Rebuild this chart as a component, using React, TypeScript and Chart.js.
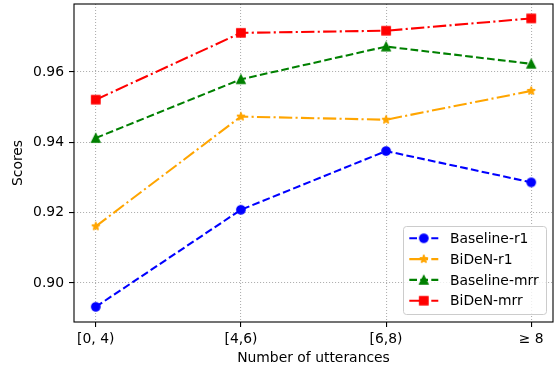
import React, { useEffect, useRef } from "react";
import { Chart, registerables } from "chart.js";
Chart.register(...registerables);

const categories = ["[0, 4)", "[4,6)", "[6,8)", "≥ 8"];
const seriesNames = ["Baseline-r1", "BiDeN-r1", "Baseline-mrr", "BiDeN-mrr"];
const baselineR1 = [0.8932, 0.9208, 0.9375, 0.9286];
const bidenR1 = [0.9161, 0.9473, 0.9464, 0.9546];
const baselineMrr = [0.9412, 0.9579, 0.9672, 0.9623];
const bidenMrr = [0.9521, 0.9711, 0.9717, 0.9752];
const yTicks = [0.9, 0.92, 0.94, 0.96];

const FONT = "DejaVu Sans";
const FS = 13.9;
const DASHED = [7.7, 3.3];
const DASHDOT = [13.3, 3.3, 2.1, 3.3];

function makeMarker(shape: string, color: string): HTMLCanvasElement {
  const c = document.createElement("canvas");
  c.width = 14;
  c.height = 14;
  const ctx = c.getContext("2d")!;
  ctx.fillStyle = color;
  ctx.strokeStyle = color;
  ctx.lineWidth = 1.39;
  ctx.lineJoin = "miter";
  const cx = 7, cy = 7, r = 4.17;
  ctx.beginPath();
  if (shape === "circle") {
    ctx.arc(cx, cy, r, 0, Math.PI * 2);
  } else if (shape === "square") {
    ctx.rect(cx - r, cy - r, 2 * r, 2 * r);
  } else if (shape === "triangle") {
    ctx.moveTo(cx, cy - r);
    ctx.lineTo(cx - r, cy + r);
    ctx.lineTo(cx + r, cy + r);
    ctx.closePath();
  } else if (shape === "star") {
    ctx.lineJoin = "bevel";
    const inner = r * 0.381966;
    for (let i = 0; i < 10; i++) {
      const rr = i % 2 === 0 ? r : inner;
      const a = -Math.PI / 2 + (i * Math.PI) / 5;
      const x = cx + rr * Math.cos(a);
      const y = cy + rr * Math.sin(a);
      if (i === 0) ctx.moveTo(x, y);
      else ctx.lineTo(x, y);
    }
    ctx.closePath();
  }
  ctx.fill();
  ctx.stroke();
  return c;
}

export default function App() {
  const ref = useRef<HTMLCanvasElement>(null);
  useEffect(() => {
    const colors = ["#0000ff", "#ffa500", "#008000", "#ff0000"];
    const shapes = ["circle", "star", "triangle", "square"];
    const dashes = [DASHED, DASHDOT, DASHED, DASHDOT];
    const values = [baselineR1, bidenR1, baselineMrr, bidenMrr];
    const markers = shapes.map((s, i) => makeMarker(s, colors[i]));

    const frameLegend = {
      id: "frameLegend",
      afterDraw(chart: any) {
        const { ctx, chartArea } = chart;
        ctx.save();
        ctx.strokeStyle = "#000";
        ctx.lineWidth = 1.1;
        ctx.setLineDash([]);
        ctx.strokeRect(chartArea.left, chartArea.top, chartArea.right - chartArea.left, chartArea.bottom - chartArea.top);
        // legend
        const bx = 403.5, by = 226.5, bw = 143, bh = 88;
        ctx.beginPath();
        (ctx as any).roundRect(bx, by, bw, bh, 3);
        ctx.fillStyle = "rgba(255,255,255,0.8)";
        ctx.fill();
        ctx.strokeStyle = "#cccccc";
        ctx.lineWidth = 1;
        ctx.stroke();
        ctx.font = `${FS}px "${FONT}"`;
        ctx.textBaseline = "middle";
        ctx.textAlign = "left";
        for (let i = 0; i < seriesNames.length; i++) {
          const y = 238.3 + i * 20.8;
          ctx.strokeStyle = colors[i];
          ctx.lineWidth = 2.08;
          ctx.setLineDash(dashes[i]);
          ctx.beginPath();
          ctx.moveTo(409.3, y);
          ctx.lineTo(438.3, y);
          ctx.stroke();
          ctx.setLineDash([]);
          ctx.drawImage(markers[i], 423.8 - 7, y - 7);
          ctx.fillStyle = "#000";
          ctx.fillText(seriesNames[i], 450, y + 1);
        }
        ctx.restore();
      },
    };

    const noPad = (scale: any) => {
      scale.paddingTop = 0;
      scale.paddingBottom = 0;
      scale.paddingLeft = 0;
      scale.paddingRight = 0;
    };

    const chart = new Chart(ref.current!, {
      type: "line",
      data: {
        datasets: seriesNames.map((name, i) => ({
          label: name,
          data: values[i].map((v, j) => ({ x: j, y: v })),
          borderColor: colors[i],
          backgroundColor: colors[i],
          borderWidth: 2.08,
          borderDash: dashes[i],
          pointStyle: markers[i] as any,
          pointRadius: 5,
          pointHoverRadius: 5,
          fill: false,
          tension: 0,
          order: 4 - i,
        })),
      },
      options: {
        animation: false,
        responsive: false,
        devicePixelRatio: 1,
        layout: { autoPadding: false, padding: { top: 4, right: 1, left: 0, bottom: 0 } },
        plugins: { legend: { display: false }, tooltip: { enabled: false } },
        scales: {
          x: {
            type: "linear",
            min: -0.15,
            max: 3.15,
            afterBuildTicks: (scale: any) => {
              scale.ticks = categories.map((_, i) => ({ value: i }));
            },
            afterFit: (scale: any) => {
              scale.height = 48;
              noPad(scale);
            },
            ticks: {
              callback: (v: any) => categories[v as number] ?? "",
              color: "#000",
              font: { family: FONT, size: FS },
              padding: 4.5,
              maxRotation: 0,
              autoSkip: false,
            },
            grid: {
              color: "#b0b0b0",
              lineWidth: 1.1,
              tickLength: 5,
              tickColor: "#000",
              tickWidth: 1.1,
              tickBorderDash: [],
            },
            border: { display: false, dash: [1.1, 1.9] },
            title: {
              display: true,
              text: "Number of utterances",
              color: "#000",
              font: { family: FONT, size: FS },
              padding: { top: 0, bottom: 3.5 },
            },
          },
          y: {
            type: "linear",
            min: 0.8889,
            max: 0.9793,
            afterBuildTicks: (scale: any) => {
              scale.ticks = yTicks.map((v) => ({ value: v }));
            },
            afterFit: (scale: any) => {
              scale.width = 74;
              noPad(scale);
            },
            ticks: {
              callback: (v: any) => Number(v).toFixed(2),
              color: "#000",
              font: { family: FONT, size: FS },
              padding: 5,
            },
            grid: {
              color: "#b0b0b0",
              lineWidth: 1.1,
              tickLength: 5,
              tickColor: "#000",
              tickWidth: 1.1,
              tickBorderDash: [],
            },
            border: { display: false, dash: [1.1, 1.9] },
            title: {
              display: true,
              text: "Scores",
              color: "#000",
              font: { family: FONT, size: FS },
              padding: { top: 10, bottom: 0 },
            },
          },
        },
      },
      plugins: [frameLegend],
    } as any);
    return () => chart.destroy();
  }, []);
  return (
    <div style={{ position: "absolute", left: 0, top: 0, width: 554, height: 370, background: "#fff" }}>
      <canvas ref={ref} width={554} height={370} style={{ width: 554, height: 370, display: "block" }} />
    </div>
  );
}
